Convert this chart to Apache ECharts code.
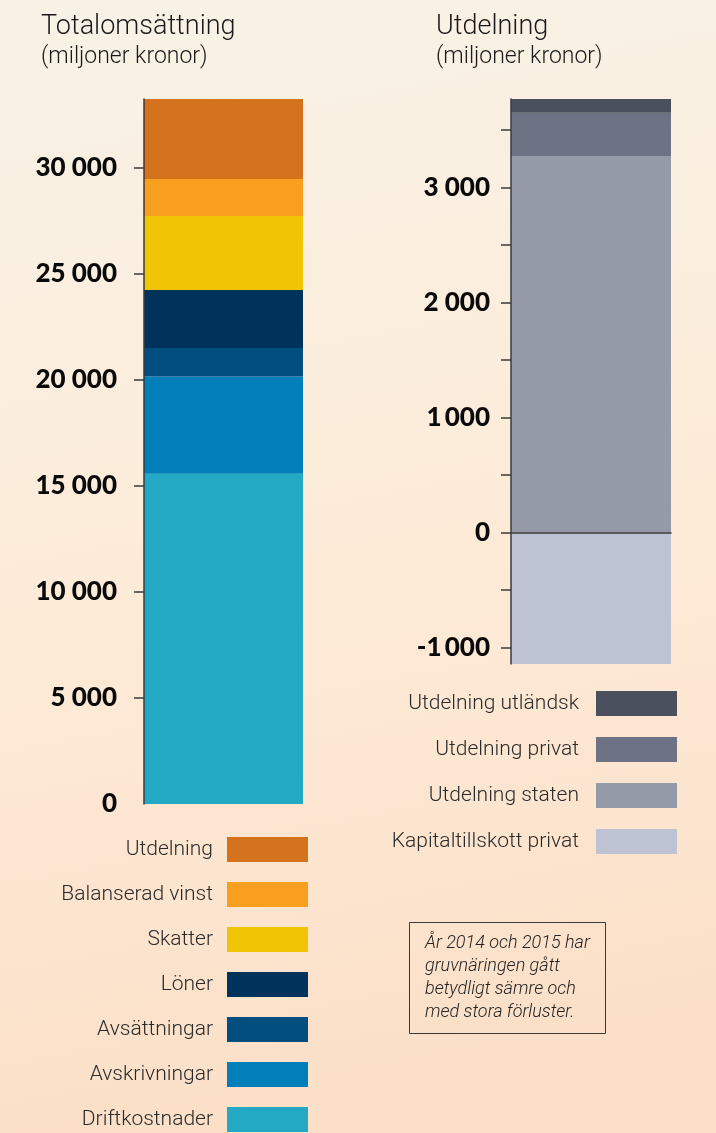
<!DOCTYPE html>
<html>
<head>
<meta charset="utf-8">
<script src="https://cdn.jsdelivr.net/npm/echarts@6/dist/echarts.min.js"></script>
<style>
  html, body { margin: 0; padding: 0; }
  #main { width: 716px; height: 1133px; }
</style>
</head>
<body>
<div id="main"></div>
<script>
// Totalomsättning (miljoner kronor), stackordning nerifrån och upp
var totNames = ['Driftkostnader', 'Avskrivningar', 'Avsättningar', 'Löner', 'Skatter', 'Balanserad vinst', 'Utdelning'];
var totValues = [15570, 4585, 1350, 2735, 3485, 1745, 3770];
var totColors = ['#23a9c3', '#007fba', '#024e7e', '#00335c', '#f0c505', '#f99f1f', '#d5721e'];
var totTicks = [5000, 10000, 15000, 20000, 25000, 30000];
var totTickLabels = [0, 5000, 10000, 15000, 20000, 25000, 30000];

// Utdelning (miljoner kronor)
var utdNames = ['Kapitaltillskott privat', 'Utdelning staten', 'Utdelning privat', 'Utdelning utländsk'];
var utdValues = [-1145, 3270, 380, 120];
var utdColors = ['#bec3d4', '#959aa8', '#6d7384', '#4b505e'];
var utdTicks = [-1000, -500, 0, 500, 1000, 1500, 2000, 2500, 3000, 3500];
var utdTickLabels = [-1000, 0, 1000, 2000, 3000];

var FONT = 'Roboto, "Open Sans", sans-serif';

function fmt(v) {
    var s = Math.abs(v).toString();
    var sep = Math.abs(v) === 1000 ? '\u2009' : ' ';
    if (s.length > 3) s = s.slice(0, s.length - 3) + sep + s.slice(s.length - 3);
    return (v < 0 ? '-' : '') + s;
}

var totMax = totValues.reduce(function (a, b) { return a + b; }, 0);
var utdMax = 0, utdMin = 0;
utdValues.forEach(function (v) { if (v > 0) utdMax += v; else utdMin += v; });

var series = [];
totNames.forEach(function (n, i) {
    series.push({
        name: n, type: 'bar', stack: 'tot', xAxisIndex: 0, yAxisIndex: 0,
        barWidth: '100%', itemStyle: { color: totColors[i] },
        data: [totValues[i]]
    });
});
utdNames.forEach(function (n, i) {
    series.push({
        name: n, type: 'bar', stack: 'utd', xAxisIndex: 1, yAxisIndex: 1,
        barWidth: '100%', itemStyle: { color: utdColors[i] },
        data: [utdValues[i]]
    });
});

var axisLabelStyle = {
    fontFamily: 'Lato, "Open Sans", sans-serif',
    fontWeight: 900,
    fontSize: 26,
    color: '#0a0a0a'
};

var myChart = echarts.init(document.getElementById('main'));
option = {
    backgroundColor: new echarts.graphic.LinearGradient(0.3, 0, 0.6, 1, [
        { offset: 0, color: '#f8f2e6' },
        { offset: 0.55, color: '#fdead6' },
        { offset: 1, color: '#fbdec6' }
    ]),
    animation: false,
    title: [
        {
            text: 'Totalomsättning', subtext: '(miljoner kronor)',
            left: 41, top: 14, itemGap: 5, padding: 0,
            textStyle: { fontFamily: FONT, fontWeight: 300, fontSize: 27, color: '#1a1a1a' },
            subtextStyle: { fontFamily: FONT, fontWeight: 300, fontSize: 23, color: '#1a1a1a' }
        },
        {
            text: 'Utdelning', subtext: '(miljoner kronor)',
            left: 436, top: 14, itemGap: 5, padding: 0,
            textStyle: { fontFamily: FONT, fontWeight: 300, fontSize: 27, color: '#1a1a1a' },
            subtextStyle: { fontFamily: FONT, fontWeight: 300, fontSize: 23, color: '#1a1a1a' }
        }
    ],
    grid: [
        { left: 144, top: 99, width: 159, height: 705 },
        { left: 511, top: 99, width: 160, height: 565 }
    ],
    xAxis: [
        { gridIndex: 0, type: 'category', data: [''], show: false },
        {
            gridIndex: 1, type: 'category', data: [''], z: 10,
            axisLine: { onZero: true, lineStyle: { color: '#3a3a3a', width: 1.5 } },
            axisTick: { show: false }, axisLabel: { show: false }
        }
    ],
    yAxis: [
        {
            gridIndex: 0, type: 'value', min: 0, max: totMax, z: 10,
            splitLine: { show: false },
            axisLine: { show: true, lineStyle: { color: '#3a3a3a', width: 1.5 } },
            axisTick: { show: true, length: 10, customValues: totTicks, lineStyle: { color: '#3a3a3a', width: 1.5 } },
            axisLabel: Object.assign({ margin: 27, customValues: totTickLabels, formatter: fmt }, axisLabelStyle)
        },
        {
            gridIndex: 1, type: 'value', min: utdMin, max: utdMax, z: 10,
            splitLine: { show: false },
            axisLine: { show: true, onZero: false, lineStyle: { color: '#3a3a3a', width: 1.5 } },
            axisTick: { show: true, length: 10, customValues: utdTicks, lineStyle: { color: '#3a3a3a', width: 1.5 } },
            axisLabel: Object.assign({ margin: 21, customValues: utdTickLabels, formatter: fmt }, axisLabelStyle)
        }
    ],
    legend: [
        {
            orient: 'vertical', align: 'right', right: 408, top: 837, padding: 0,
            itemWidth: 81, itemHeight: 25, itemGap: 20, icon: 'rect',
            data: totNames.slice().reverse(),
            selectedMode: false,
            textStyle: { fontFamily: FONT, fontWeight: 300, fontSize: 21, color: '#2a2a2a', padding: [0, 9, 0, 0] }
        },
        {
            orient: 'vertical', align: 'right', right: 39, top: 691, padding: 0,
            itemWidth: 81, itemHeight: 25, itemGap: 21, icon: 'rect',
            data: utdNames.slice().reverse(),
            selectedMode: false,
            textStyle: { fontFamily: FONT, fontWeight: 300, fontSize: 21, color: '#2a2a2a', padding: [0, 12, 0, 0] }
        }
    ],
    graphic: [
        {
            type: 'rect', left: 407, top: 920,
            shape: { width: 196, height: 111 },
            style: { fill: 'none', stroke: '#3a3a3a', lineWidth: 1 }
        },
        {
            type: 'text', left: 425, top: 932,
            style: {
                text: 'År 2014 och 2015 har\ngruvnäringen gått\nbetydligt sämre och\nmed stora förluster.',
                font: 'italic 300 18px ' + FONT,
                lineHeight: 23,
                fill: '#222'
            }
        }
    ],
    series: series
};

myChart.setOption(option);
window.addEventListener("resize", function () {
    myChart.resize();
});
</script>
</body>
</html>
